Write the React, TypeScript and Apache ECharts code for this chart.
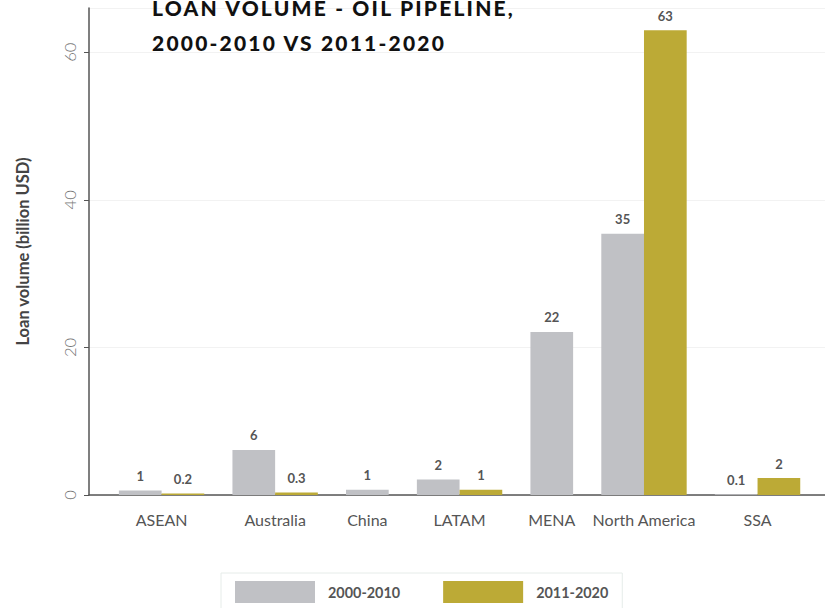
import React, { useEffect, useRef } from "react";
import * as echarts from "echarts";

const categories = ["ASEAN", "Australia", "China", "LATAM", "MENA", "North America", "SSA"];
const seriesNames = ["2000-2010", "2011-2020"];
const values2000: (number | null)[] = [0.6, 6.1, 0.7, 2.1, 22.1, 35.4, 0.1];
const values2011: (number | null)[] = [0.2, 0.33, null, 0.7, null, 63.0, 2.3];
const labels2000: (string | null)[] = ["1", "6", "1", "2", "22", "35", "0.1"];
const labels2011: (string | null)[] = ["0.2", "0.3", null, "1", null, "63", "2"];
const titleLines = ["LOAN VOLUME - OIL PIPELINE,", "2000-2010 VS 2011-2020"];
const yAxisName = "Loan volume (billion USD)";

const COLORS = ["#c0c1c5", "#bcaa36"];
const FONT = "Lato, 'Noto Sans', sans-serif";

// dodge layout (in bar-width units)
const BAR_W = 1;
const GROUP_GAP = 0.66;
const LEFT_PAD = 0.7;
const X_MAX = 17.24;

export default function App() {
  const ref = useRef<HTMLDivElement>(null);
  useEffect(() => {
    if (!ref.current) return;
    const chart = echarts.init(ref.current, undefined, { renderer: "svg" });
    const gridLeft = 89;
    const gridRight = 0;
    const gridW = 825 - gridLeft - gridRight;

    const centers: number[] = [];
    const x2000: (number | null)[] = [];
    const x2011: (number | null)[] = [];
    let start = LEFT_PAD;
    categories.forEach((_, i) => {
      let pos = start + BAR_W / 2;
      let n = 0;
      if (values2000[i] != null) { x2000[i] = pos; pos += BAR_W; n++; } else x2000[i] = null;
      if (values2011[i] != null) { x2011[i] = pos; pos += BAR_W; n++; } else x2011[i] = null;
      centers[i] = start + (n * BAR_W) / 2;
      start += n * BAR_W + GROUP_GAP;
    });

    const mk = (vals: (number | null)[], xs: (number | null)[], labs: (string | null)[]) =>
      vals
        .map((v, i) => (v == null ? null : { value: [xs[i], v], label: { formatter: labs[i] ?? "" } }))
        .filter((d) => d != null);

    const barWidth = (gridW / X_MAX) * BAR_W;
    const labelStyle = {
      show: true,
      position: "top",
      distance: 8,
      fontFamily: FONT,
      fontWeight: "bold",
      fontSize: 13,
      color: "#555",
    };

    chart.setOption({
      animation: false,
      title: {
        text: titleLines.join("\n"),
        left: 147,
        top: -15,
        textStyle: { fontFamily: FONT, fontWeight: 900, fontSize: 21, color: "#111", lineHeight: 35 },
      },
      legend: {
        data: seriesNames,
        left: 221,
        top: 573,
        icon: "rect",
        itemWidth: 80,
        itemHeight: 22,
        itemGap: 43,
        padding: [8, 14, 8, 14],
        borderColor: "#e6ece9",
        borderWidth: 1,
        textStyle: { fontFamily: FONT, fontWeight: "bold", fontSize: 14.4, color: "#555", padding: [0, 0, 0, 8] },
      },
      grid: { left: gridLeft, right: gridRight, top: 8, bottom: 113, containLabel: false },
      xAxis: {
        type: "value",
        min: 0,
        max: X_MAX,
        axisLine: { show: true, lineStyle: { color: "#555", width: 1.5 } },
        axisTick: { show: false },
        splitLine: { show: false },
        axisLabel: {
          customValues: centers,
          margin: 16,
          fontFamily: FONT,
          fontSize: 16,
          color: "#555",
          formatter: (v: number) => {
            let best = 0;
            centers.forEach((c, i) => { if (Math.abs(c - v) < Math.abs(centers[best] - v)) best = i; });
            return categories[best];
          },
        },
      },
      yAxis: {
        type: "value",
        min: 0,
        max: 66,
        interval: 20,
        name: yAxisName,
        nameLocation: "middle",
        nameGap: 58,
        nameTextStyle: { fontFamily: FONT, fontWeight: "bold", fontSize: 16.5, color: "#444" },
        axisLine: { show: true, lineStyle: { color: "#555", width: 1.5 } },
        axisTick: { show: true, length: 5, lineStyle: { color: "#555" } },
        splitLine: { show: true, lineStyle: { color: "#f2f2f2", width: 1 } },
        axisLabel: { rotate: 90, margin: 11, fontFamily: FONT, fontWeight: 300, fontSize: 16.5, color: "#777", showMaxLabel: false },
      },
      series: [
        {
          name: seriesNames[0],
          type: "bar",
          barWidth,
          barGap: "-100%",
          itemStyle: { color: COLORS[0] },
          label: labelStyle,
          data: mk(values2000, x2000, labels2000),
        },
        {
          name: seriesNames[1],
          type: "bar",
          barWidth,
          barGap: "-100%",
          itemStyle: { color: COLORS[1] },
          label: labelStyle,
          data: mk(values2011, x2011, labels2011),
        },
      ],
    });

    // widen title tracking
    ref.current.querySelectorAll("text").forEach((t) => {
      const s = t.textContent || "";
      if (titleLines.includes(s)) t.setAttribute("letter-spacing", "2.2");
    });

    return () => chart.dispose();
  }, []);
  return <div ref={ref} style={{ position: "absolute", left: 0, top: 0, width: 825, height: 608 }} />;
}
